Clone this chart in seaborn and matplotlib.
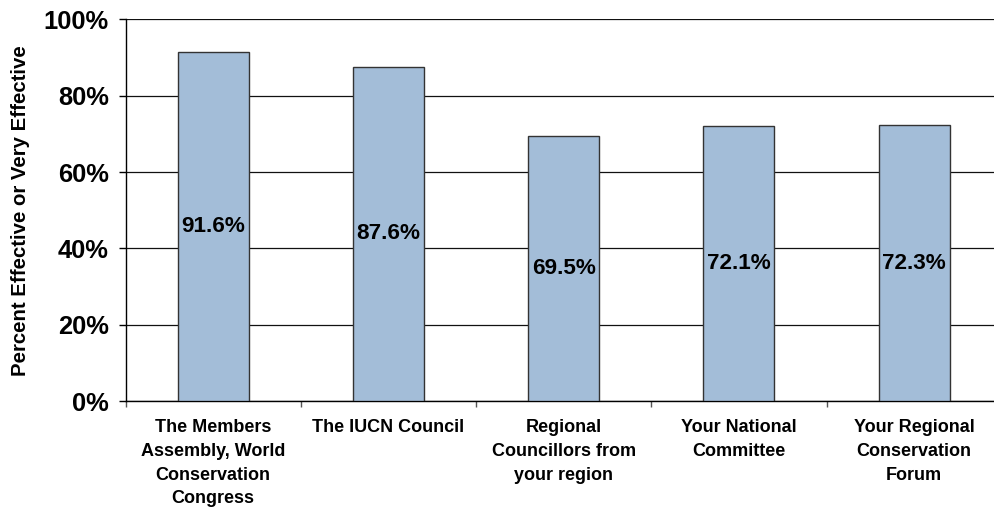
import matplotlib
matplotlib.use("Agg")
import matplotlib.pyplot as plt
from matplotlib.ticker import PercentFormatter, FixedLocator
import seaborn as sns
import pandas as pd

categories = [
    "The Members\nAssembly, World\nConservation\nCongress",
    "The IUCN Council",
    "Regional\nCouncillors from\nyour region",
    "Your National\nCommittee",
    "Your Regional\nConservation\nForum",
]
values = [91.6, 87.6, 69.5, 72.1, 72.3]
y_ticks = [0, 20, 40, 60, 80, 100]

sns.set_theme(style="white")
plt.rcParams["font.family"] = ["Liberation Sans", "DejaVu Sans"]
plt.rcParams["font.weight"] = "bold"
for key in ["text.color", "axes.labelcolor", "xtick.color", "ytick.color"]:
    plt.rcParams[key] = "black"

df = pd.DataFrame({"group": categories, "pct": values})

fig = plt.figure(figsize=(9.94, 5.13), dpi=100)
ax = fig.add_axes([0.1263, 0.2183, 0.8815, 0.7437])

sns.barplot(data=df, x="group", y="pct", color="#A3BDD8", saturation=1,
            width=0.405, edgecolor="#333333", linewidth=1.0, ax=ax, zorder=3)

ax.set_ylim(0, 100)
ax.set_xlim(-0.5, len(categories) - 0.5)
ax.yaxis.set_major_locator(FixedLocator(y_ticks))
ax.yaxis.set_major_formatter(PercentFormatter(decimals=0))
ax.grid(axis="y", color="#111111", linewidth=0.9, zorder=0)
ax.set_axisbelow(True)

for side in ["top", "right"]:
    ax.spines[side].set_visible(False)
for side in ["left", "bottom"]:
    ax.spines[side].set_color("black")
    ax.spines[side].set_linewidth(1.0)

# category labels sit at bar centres, tick marks at category boundaries
ax.set_xticks(range(len(categories)))
ax.set_xticklabels(categories, fontsize=13, fontweight="bold",
                   linespacing=1.52, ha="center", va="top", color="black")
ax.tick_params(axis="x", which="major", length=0, pad=13)
ax.set_xticks([i - 0.5 for i in range(len(categories) + 1)], minor=True)
ax.tick_params(axis="x", which="minor", bottom=True, length=4,
               width=1, color="#555555")

ax.tick_params(axis="y", left=True, length=5, width=1, color="black",
               labelcolor="black", pad=7, labelsize=18.4)
for lbl in ax.get_yticklabels():
    lbl.set_fontweight("bold")

ax.set_xlabel("")
ax.set_ylabel("Percent Effective or Very Effective", fontsize=14.7,
              fontweight="bold", labelpad=10, color="black")

for c in ax.containers:
    ax.bar_label(c, labels=[f"{v:.1f}%" for v in values], label_type="center",
                 fontsize=16.2, fontweight="bold", color="black")

fig.savefig("out.png", dpi=100)
